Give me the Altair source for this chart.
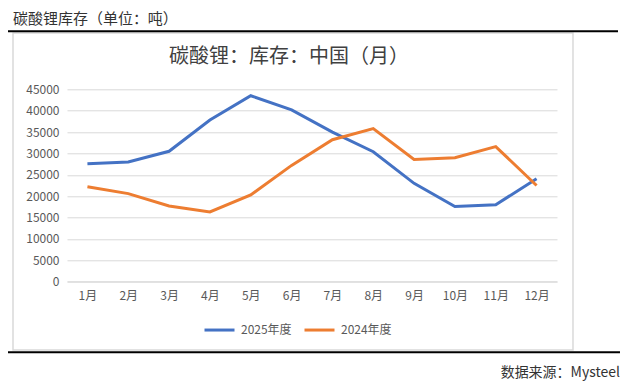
import altair as alt
import pandas as pd

months = ["1月", "2月", "3月", "4月", "5月", "6月", "7月", "8月", "9月", "10月", "11月", "12月"]
series_names = ["2025年度", "2024年度"]
v2025 = [27600, 28000, 30500, 37800, 43500, 40200, 35000, 30400, 23000, 17600, 18000, 24100]
v2024 = [22200, 20600, 17700, 16300, 20300, 27200, 33200, 35800, 28600, 29000, 31600, 22500]
y_ticks = [0, 5000, 10000, 15000, 20000, 25000, 30000, 35000, 40000, 45000]
colors = ["#4472C4", "#ED7D31"]

header = "碳酸锂库存（单位：吨）"
chart_title = "碳酸锂：库存：中国（月）"
source = "数据来源：Mysteel"

rows = []
for name, vals in zip(series_names, [v2025, v2024]):
    for m, v in zip(months, vals):
        rows.append({"month": m, "series": name, "value": v})
df = pd.DataFrame(rows)

FONT = "Noto Sans CJK SC"

box = alt.Chart(pd.DataFrame({"a": [0]})).mark_rect(
    fillOpacity=0, stroke="#D9D9D9", strokeWidth=1.5
).encode(
    x=alt.value(-54), x2=alt.value(506), y=alt.value(-56.3), y2=alt.value(260.7)
)

top_rule = alt.Chart(pd.DataFrame({"a": [0]})).mark_rule(color="black", strokeWidth=2).encode(
    x=alt.value(-61), x2=alt.value(551), y=alt.value(-58)
)
bottom_rule = alt.Chart(pd.DataFrame({"a": [0]})).mark_rule(color="black", strokeWidth=2).encode(
    x=alt.value(-61), x2=alt.value(553), y=alt.value(263)
)

lines = alt.Chart(df).mark_line(strokeWidth=3).encode(
    x=alt.X("month:N", sort=months, title=None,
            axis=alt.Axis(labelAngle=0, labelFontSize=12, labelColor="#595959",
                          labelPadding=9, ticks=False, domainColor="#D9D9D9",
                          labelFont=FONT)),
    y=alt.Y("value:Q", title=None, scale=alt.Scale(domain=[0, 45000], nice=False),
            axis=alt.Axis(values=y_ticks, format="d", labelFontSize=12,
                          labelColor="#595959", labelPadding=8, ticks=False,
                          domain=False, gridColor="#D9D9D9", labelFont=FONT)),
    color=alt.Color("series:N", sort=series_names,
                    scale=alt.Scale(domain=series_names, range=colors),
                    legend=alt.Legend(title=None, orient="none", legendX=136, legendY=224,
                                      direction="horizontal", symbolType="stroke",
                                      symbolSize=900, symbolStrokeWidth=3,
                                      labelFontSize=12, labelColor="#595959",
                                      labelFont=FONT, columnPadding=6, labelOffset=5)),
)

def text_layer(txt, x, y, size, align, color="#333333", font=FONT):
    return alt.Chart(pd.DataFrame({"t": [txt]})).mark_text(
        align=align, baseline="middle", fontSize=size, color=color, font=font
    ).encode(x=alt.value(x), y=alt.value(y), text="t:N")

t_header = text_layer(header, -54, -70, 15, "left", "#333333")
t_title = text_layer(chart_title, 222, -32, 20, "center", "#404040")
t_source = text_layer(source, 553, 284, 14, "right", "#333333")

chart = alt.layer(box, top_rule, bottom_rule, lines, t_header, t_title, t_source).properties(
    width=490, height=192.4,
    autosize=alt.AutoSizeParams(type="none"),
    padding={"left": 59, "top": 81.3, "right": 63, "bottom": 100},
).configure_view(stroke=None).configure_axis(labelFont=FONT)

chart.save("out.html", embed_options={"renderer": "svg", "actions": False})
